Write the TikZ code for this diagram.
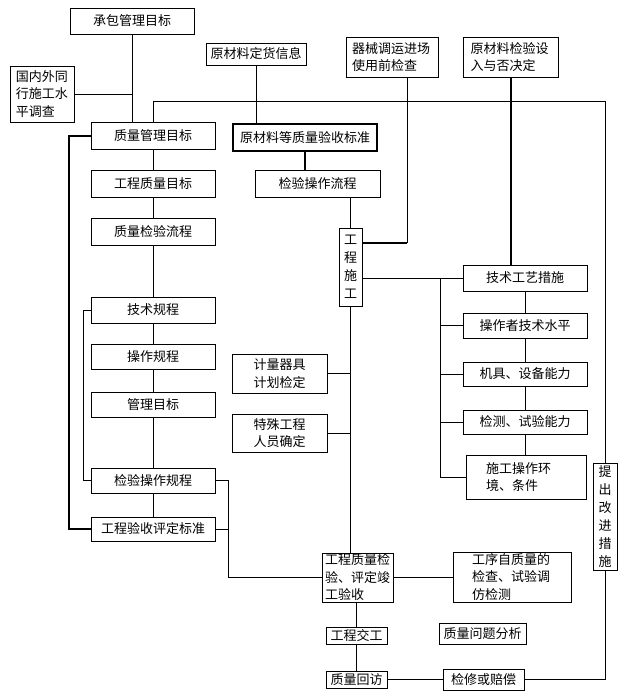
\documentclass[tikz,border=0pt]{standalone}
\usepackage{fontspec}
\setmainfont{Noto Sans CJK SC}
\begin{document}
\begin{tikzpicture}[x=1pt, y=-1pt, line width=0.8pt,
  box/.style={draw, inner sep=0pt, align=center, font=\fontsize{13}{17.5}\selectfont},
  vbox/.style={box, font=\fontsize{13}{18}\selectfont},
  boldline/.style={line width=2pt}]
\useasboundingbox (0,0) rectangle (628,699);
% top row
\node[box, minimum width=124pt, minimum height=26pt] (cbmb) at (132,21) {承包管理目标};
\node[box, text width=52pt, align=left, minimum width=64pt, minimum height=56pt] (gnwh) at (42,94) {国内外同\\行施工水\\平调查};
\node[box, minimum width=100pt, minimum height=22pt] (dhxx) at (256,54) {原材料定货信息};
\node[box, text width=80pt, align=left, minimum width=92pt, minimum height=40pt] (qxjc) at (392,57) {器械调运进场\\使用前检查};
\node[box, text width=80pt, align=left, minimum width=95pt, minimum height=40pt] (yljy) at (510.5,57) {原材料检验设\\入与否决定};
% left column
\node[box, minimum width=124pt, minimum height=27pt] (zlmb) at (153,135.5) {质量管理目标};
\node[box, minimum width=124pt, minimum height=27pt] (gcmb) at (153,183.5) {工程质量目标};
\node[box, minimum width=124pt, minimum height=27pt] (jylc) at (153,231.5) {质量检验流程};
\node[box, minimum width=124pt, minimum height=26pt] (jsgc) at (153,310) {技术规程};
\node[box, minimum width=124pt, minimum height=25pt] (czgc) at (153,356.5) {操作规程};
\node[box, minimum width=124pt, minimum height=25pt] (glmb) at (153,404.5) {管理目标};
\node[box, minimum width=124pt, minimum height=25pt] (jygc) at (153,480.5) {检验操作规程};
\node[box, minimum width=124pt, minimum height=24pt] (ysbz) at (153,529) {工程验收评定标准};
% middle column
\node[box, boldline, minimum width=144pt, minimum height=27pt] (yclb) at (305,137.5) {原材料等质量验收标准};
\node[box, minimum width=125pt, minimum height=27pt] (jycz) at (317.5,183.5) {检验操作流程};
\node[vbox, minimum width=23pt, minimum height=78pt] (gcsg) at (350.5,267) {工\\程\\施\\工};
\node[box, minimum width=95pt, minimum height=39pt] (jlqj) at (279.5,373.5) {计量器具\\计划检定};
\node[box, minimum width=95pt, minimum height=38pt] (tsgc) at (279.5,433) {特殊工程\\人员确定};
% right column
\node[box, minimum width=124pt, minimum height=26pt] (jsgy) at (525,278) {技术工艺措施};
\node[box, minimum width=124pt, minimum height=25pt] (czz) at (525,325.5) {操作者技术水平};
\node[box, minimum width=124pt, minimum height=24pt] (jjsb) at (525,374) {机具、设备能力};
\node[box, minimum width=124pt, minimum height=24pt] (jcsy) at (525,422) {检测、试验能力};
\node[box, text width=80pt, align=left, minimum width=120pt, minimum height=44pt] (sghj) at (526,477) {施工操作环\\境、条件};
\node[vbox, minimum width=24pt, minimum height=107pt] (tcgj) at (605,516.5) {提\\出\\改\\进\\措\\施};
% bottom part
\node[box, text width=65pt, align=left, minimum width=71pt, minimum height=49pt] (gcjy) at (357.5,577.5) {工程质量检\\验、评定竣\\工验收};
\node[box, text width=80pt, align=left, minimum width=118pt, minimum height=50pt] (gxzj) at (512,577) {工序自质量的\\检查、试验调\\仿检测};
\node[box, minimum width=61pt, minimum height=17pt] (gcjg) at (356.5,636) {工程交工};
\node[box, minimum width=87pt, minimum height=21pt] (zlwt) at (482.5,633.5) {质量问题分析};
\node[box, minimum width=61pt, minimum height=17pt] (zlhf) at (356.5,679.5) {质量回访};
\node[box, minimum width=81pt, minimum height=21pt] (jxpc) at (483.5,679.5) {检修或赔偿};
% connectors
\coordinate (ytop) at (605,101);
\coordinate (qxd) at (407,243);
\coordinate (vbr) at (440,0);
\coordinate (lbr) at (69,0);
\coordinate (lbs) at (83,0);
\coordinate (rbr) at (228,0);
\draw (cbmb.south) -- (cbmb.south |- zlmb.north);
\draw (gnwh.east) -- (gnwh.east -| cbmb.south);
\draw (zlmb.north) |- (ytop) -- (tcgj.north);
\draw (dhxx.south) -- (dhxx.south |- yclb.north);
\draw (qxjc.south -| qxd) -- (qxd);
\draw[boldline] (qxd) -- (qxd -| gcsg.east);
\draw[boldline] (yljy.south) -- (yljy.south |- jsgy.north);
\draw[boldline] (yclb.south) -- (yclb.south |- jycz.north);
\draw (gcsg.north |- jycz.south) -- (gcsg.north);
\draw (gcsg.east |- jsgy.west) -- (jsgy.west);
\draw (vbr |- jsgy.west) -- (vbr |- sghj.west) -- (sghj.west);
\draw (vbr |- czz.west) -- (czz.west);
\draw (vbr |- jjsb.west) -- (jjsb.west);
\draw (vbr |- jcsy.west) -- (jcsy.west);
\draw (jsgy) -- (czz);
\draw (czz) -- (jjsb);
\draw (jjsb) -- (jcsy);
\draw (jcsy.south) -- (jcsy.south |- sghj.north);
\draw (gcsg.south) -- (gcsg.south |- gcjy.north);
\draw (jlqj.east) -- (jlqj.east -| gcsg.south);
\draw (tsgc.east) -- (tsgc.east -| gcsg.south);
\draw (zlmb) -- (gcmb);
\draw (gcmb) -- (jylc);
\draw (jylc) -- (jsgc);
\draw (jsgc) -- (czgc);
\draw (czgc) -- (glmb);
\draw (glmb) -- (jygc);
\draw (jygc) -- (ysbz);
\draw[boldline] (zlmb.west) -- (lbr |- zlmb.west) -- (lbr |- ysbz.west) -- (ysbz.west);
\draw (jsgc.west) -- (lbs |- jsgc.west) -- (lbs |- jygc.west) -- (jygc.west);
\draw (jygc.east) -- (rbr |- jygc.east) |- (gcjy.west);
\draw (ysbz.east) -- (rbr |- ysbz.east);
\draw (gcjy.east) -- (gcjy.east -| gxzj.west);
\draw (gcjg.north |- gcjy.south) -- (gcjg.north);
\draw (gcjg) -- (zlhf);
\draw (zlhf) -- (jxpc);
\draw (jxpc.east) -| (tcgj.south);
\end{tikzpicture}
\end{document}
